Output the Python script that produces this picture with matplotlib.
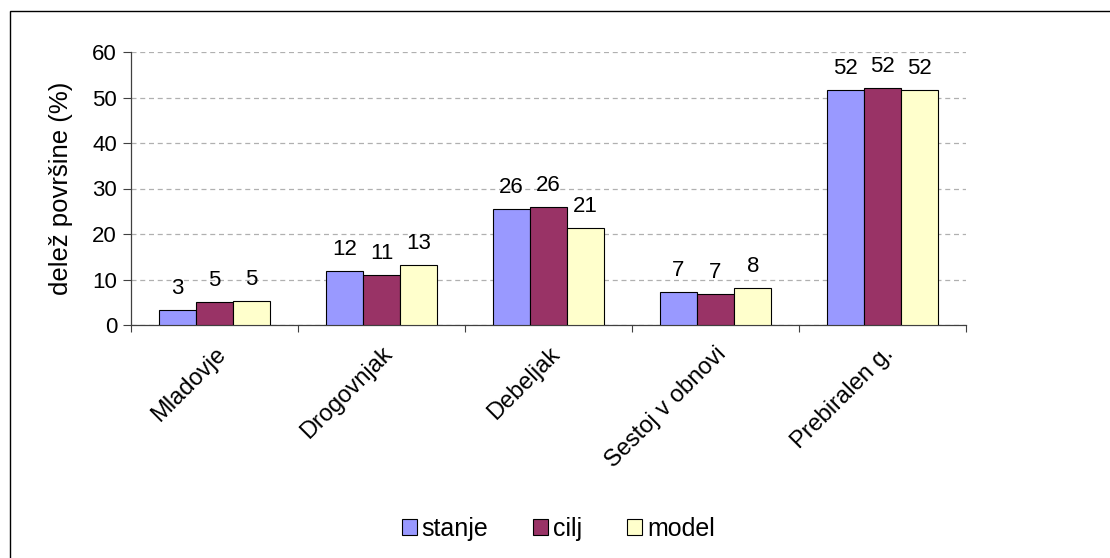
import numpy as np
import matplotlib.pyplot as plt
from matplotlib.patches import Rectangle

plt.rcParams['font.family'] = ['Liberation Sans', 'DejaVu Sans']

categories = ['Mladovje', 'Drogovnjak', 'Debeljak', 'Sestoj v obnovi', 'Prebiralen g.']
stanje = [3.2, 11.8, 25.6, 7.2, 51.7]
cilj = [5.0, 10.9, 25.9, 6.9, 52.0]
model = [5.3, 13.1, 21.3, 8.1, 51.7]

series = [('stanje', stanje, '#9999FF'),
          ('cilj', cilj, '#993366'),
          ('model', model, '#FFFFCC')]

fig = plt.figure(figsize=(11.1, 5.58), dpi=100)
ax = fig.add_axes([131 / 1110, 1 - 325 / 558, 835 / 1110, 273 / 558])

# outer chart frame (only top and left edges fall inside the canvas)
fig.patches.append(Rectangle((10 / 1110, -0.1), 1.2, 1 - 11 / 558 + 0.1,
                             transform=fig.transFigure, fill=False,
                             edgecolor='black', linewidth=1.0))

x = np.arange(len(categories))
w = 0.223
for i, (name, vals, color) in enumerate(series):
    pos = x + (i - 1) * w
    bars = ax.bar(pos, vals, width=w, color=color, edgecolor='black',
                  linewidth=0.8, label=name, zorder=3)
    for b, v in zip(bars, vals):
        ax.annotate(f'{v:.0f}', (b.get_x() + b.get_width() / 2, v),
                    xytext=(0, 11.5), textcoords='offset points',
                    ha='center', va='baseline', fontsize=16)

ax.set_xlim(-0.5, len(categories) - 0.5)
ax.set_ylim(0, 60)
ax.set_yticks(range(0, 61, 10))
ax.yaxis.grid(True, linestyle=(0, (4, 3)), color='#b0b0b0', linewidth=0.9, zorder=0)
ax.set_axisbelow(True)

# category ticks sit between groups
ax.set_xticks(np.arange(-0.5, len(categories), 1.0))
ax.set_xticklabels([])
ax.set_xticks(x, minor=True)
ax.set_xticklabels(categories, minor=True, rotation=45, ha='right',
                   rotation_mode='anchor', fontsize=17)
ax.tick_params(axis='x', which='minor', length=0, pad=13)
ax.tick_params(axis='x', which='major', length=5, direction='out', color='#404040')
ax.tick_params(axis='y', length=6, direction='out', color='#404040', labelsize=16, pad=4)

for s in ['top', 'right']:
    ax.spines[s].set_visible(False)
for s in ['left', 'bottom']:
    ax.spines[s].set_color('#404040')
    ax.spines[s].set_linewidth(0.9)

ax.set_ylabel('delež površine (%)', fontsize=18.5, labelpad=14)

fig.legend(loc='lower center', bbox_to_anchor=(0.503, -0.01), ncol=3, frameon=False,
           fontsize=18, handlelength=0.6, handleheight=0.6, handletextpad=0.2,
           columnspacing=1.8)

fig.savefig('out.png', dpi=100)
